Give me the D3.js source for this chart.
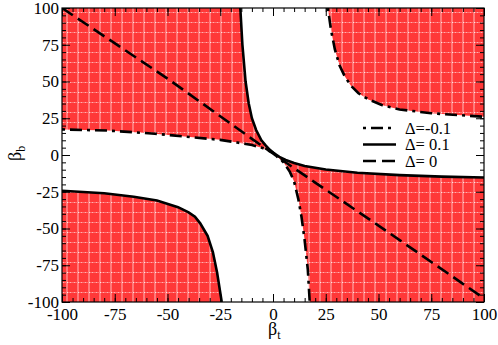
<!DOCTYPE html>
<html><head><meta charset="utf-8">
<script src="https://cdn.jsdelivr.net/npm/d3@7"></script>
<style>body{margin:0;background:#fff}svg{display:block}text{font-family:"Liberation Serif","Times New Roman",serif}</style>
</head><body>
<svg id="c" width="498" height="345"></svg>
<script>
// Data
const xTicks = [-100,-75,-50,-25,0,25,50,75,100];
const yTicks = [-100,-75,-50,-25,0,25,50,75,100];
const legendLabels = ["Δ=-0.1","Δ= 0.1","Δ= 0"];
// Δ = 0.1 (solid) upper branch
const solidUpper = [[-15.5,100],[-14.5,75],[-13,50],[-11.5,35],[-10,25],[-8,17],[-5.5,10],[-3.5,6.5],[-1.5,3.5],[0.5,1.2],[3,-1.3],[6,-3.4],[10,-5.5],[15,-7.5],[25,-9.9],[40,-12.1],[60,-13.7],[80,-14.7],[100,-15.3]];
// Δ = 0.1 (solid) lower branch
const solidLower = [[-100,-24.3],[-80,-26],[-66,-28.4],[-55,-31],[-45,-35.5],[-40,-39],[-37,-42],[-34.5,-46.5],[-31,-55],[-28.5,-66],[-26.5,-80],[-24.3,-100]];
// Δ = -0.1 (dash-dot) upper branch
const dashDotUpper = [[26,100],[27.5,85],[29.3,72],[31.5,61],[34,53.5],[37,47],[40.5,42],[45,38],[51.5,34],[60,31],[75,28.4],[100,26]];
// Δ = -0.1 (dash-dot) lower branch
const dashDotLower = [[-100,17.4],[-78,16.6],[-56,14.5],[-38,12],[-25,10.3],[-17,8.5],[-10,6.8],[-5,4.8],[-2,2.8],[0.5,1.2],[2,-1.2],[5,-5],[8,-11.5],[10,-18],[12,-30],[13.5,-42],[15,-58],[16.5,-78],[17.4,-100]];
// Δ = 0 (dashed)
const dashedLine = [[-100,100],[-50,52],[-10,11],[0,1],[10,-9],[50,-48],[100,-97.5]];

const L=62,R=484,T=8,B=302;
const svg=d3.select("#c");
const x=d3.scaleLinear().domain([-100,100]).range([L,R]);
const y=d3.scaleLinear().domain([-100,100]).range([B,T]);
const [x0,x1]=x.domain(), [y0,y1]=y.domain();
const font='"Liberation Serif","Times New Roman",serif';

// hatch pattern
const defs=svg.append("defs");
const pat=defs.append("pattern").attr("id","hatch").attr("patternUnits","userSpaceOnUse")
  .attr("width",11).attr("height",10).attr("x",L).attr("y",T);
pat.append("rect").attr("width",11).attr("height",10).attr("fill","#ff3838");
pat.append("rect").attr("x",4).attr("y",0).attr("width",2).attr("height",10).attr("fill","#ff7a7a");
pat.append("rect").attr("x",0).attr("y",4).attr("width",11).attr("height",1).attr("fill","#ff7070");
pat.append("rect").attr("x",5).attr("y",4).attr("width",1).attr("height",1).attr("fill","#ffe0e0");
pat.append("rect").attr("x",1).attr("y",4).attr("width",1).attr("height",1).attr("fill","#ffb0b0");
pat.append("rect").attr("x",8).attr("y",4).attr("width",1).attr("height",1).attr("fill","#ffb0b0");

defs.append("clipPath").attr("id","clip").append("rect").attr("x",L).attr("y",T).attr("width",R-L).attr("height",B-T);

const line=d3.line().x(d=>x(d[0])).y(d=>y(d[1]));
const g=svg.append("g").attr("clip-path","url(#clip)");

// filled regions
const splitX=0.5;
const regTL=[[x0,y1]].concat(solidUpper.filter(d=>d[0]<=splitX), dashDotLower.filter(d=>d[0]<=splitX).reverse());
const regBR=solidUpper.filter(d=>d[0]>=splitX).concat([[x1,y0]], dashDotLower.filter(d=>d[0]>=splitX).reverse());
const regTR=dashDotUpper.concat([[x1,y1]]);
const regBL=solidLower.concat([[x0,y0]]);
[regTL,regBR,regTR,regBL].forEach(r=>{
  g.append("path").attr("d",line(r)+"Z").attr("fill","url(#hatch)").attr("stroke","none");
});

// curves
const sw=2.6;
g.append("path").attr("d",line(dashedLine)).attr("fill","none").attr("stroke","#000").attr("stroke-width",sw).attr("stroke-dasharray","13,6");
[dashDotUpper,dashDotLower].forEach(c=>g.append("path").attr("d",line(c)).attr("fill","none").attr("stroke","#000").attr("stroke-width",sw).attr("stroke-dasharray","3,5,12,5"));
[solidUpper,solidLower].forEach(c=>g.append("path").attr("d",line(c)).attr("fill","none").attr("stroke","#000").attr("stroke-width",sw));

// axes
const minor=d3.range(-100,101,5);
function ax(gen,scale,tr,major,labels){
  const a=svg.append("g").attr("transform",tr);
  a.call(gen(scale).tickValues(minor).tickSizeInner(-4).tickSizeOuter(0).tickFormat(""));
  const b=svg.append("g").attr("transform",tr);
  b.call(gen(scale).tickValues(major).tickSizeInner(-8).tickSizeOuter(0).tickPadding(labels?(gen===d3.axisBottom?6:3):0).tickFormat(labels?d3.format("d"):""));
  [a,b].forEach(s=>{s.attr("font-family",null).attr("font-size",null);
    s.select(".domain").remove();s.selectAll("line").attr("stroke","#000").attr("stroke-width",1);
    s.selectAll("text").style("font-family",font).style("font-size","17px").attr("fill","#000");});
  return b;
}
ax(d3.axisBottom,x,`translate(0,${B})`,xTicks,true);
ax(d3.axisTop,x,`translate(0,${T})`,xTicks,false);
ax(d3.axisLeft,y,`translate(${L},0)`,yTicks,true);
ax(d3.axisRight,y,`translate(${R},0)`,yTicks,false);
svg.selectAll("text").filter(function(){return this.textContent.startsWith("−");}).text(function(){return this.textContent.replace("−","-");});

svg.append("rect").attr("x",L).attr("y",T).attr("width",R-L).attr("height",B-T).attr("fill","none").attr("stroke","#000").attr("stroke-width",1.2);

// axis labels
const xl=svg.append("text").attr("x",x(0)-5).attr("y",335).style("font-family",font).style("font-size","18px");
xl.append("tspan").text("β");
xl.append("tspan").style("font-size","12px").attr("dy",4).text("t");
const yl=svg.append("text").attr("transform",`translate(21,${y(0)+6}) rotate(-90)`).style("font-family",font).style("font-size","18px");
yl.append("tspan").text("β");
yl.append("tspan").style("font-size","12px").attr("dy",4).text("b");

// legend
const styles=["3,5,12,5",null,"13,6"];
const lg=svg.append("g");
legendLabels.forEach((t,i)=>{
  const yy=128+i*16.5;
  lg.append("line").attr("x1",363).attr("x2",396).attr("y1",yy).attr("y2",yy).attr("stroke","#000").attr("stroke-width",sw).attr("stroke-dasharray",styles[i]);
  lg.append("text").attr("x",405).attr("y",yy+5.5).style("font-family",font).style("font-size","16.5px").text(t);
});
</script>
</body></html>
